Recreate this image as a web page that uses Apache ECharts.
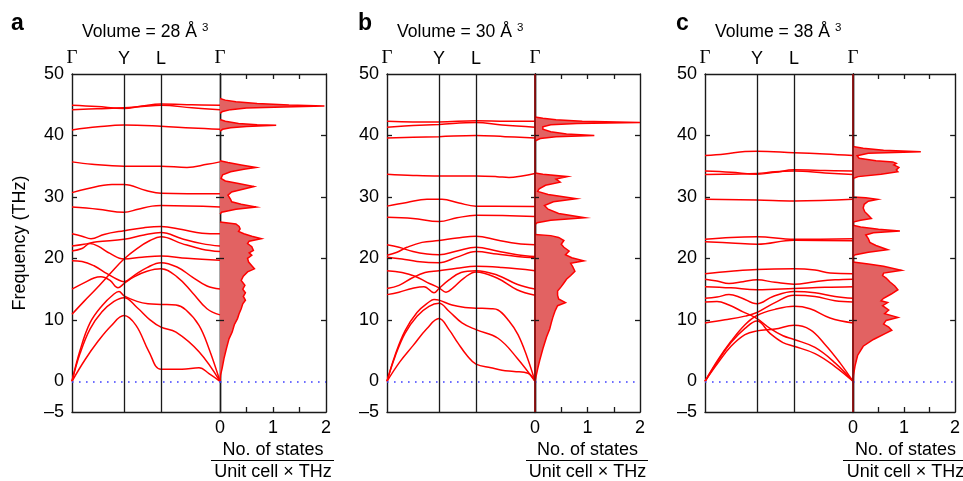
<!DOCTYPE html>
<html><head><meta charset="utf-8">
<script src="https://cdn.jsdelivr.net/npm/echarts@6/dist/echarts.min.js"></script>
<style>html,body{margin:0;padding:0;background:#fff}#c{width:963px;height:481px}</style>
</head><body><div id="c"></div>
<script>
// ---------- data ----------
const kPoints = [0, 52, 89, 148];
const kLabels = ['Γ', 'Y', 'L', 'Γ'];
const freqTickValues = [10, 20, 30, 40];
const freqLabelValues = [-5, 0, 10, 20, 30, 40, 50];
const dosTickValues = [0.5, 1, 1.5];
const dosLabelValues = [0, 1, 2];
const volumes = [28, 30, 38];
const panelLetters = ['a', 'b', 'c'];

const bandsA = [
  [[0,44.9],[25,44.7],[52,44.4],[70,44.8],[89,45.1],[120,45.0],[148,44.9]],
  [[0,44.2],[25,44.35],[52,44.5],[70,44.7],[89,44.9],[120,44.5],[148,44.2]],
  [[0,40.9],[26,41.4],[52,41.7],[89,41.5],[120,41.2],[148,41.0]],
  [[0,35.7],[20,35.3],[52,35.0],[89,35.0],[115,34.8],[135,35.3],[148,35.7]],
  [[0,30.7],[14,31.3],[40,32.0],[52,32.0],[74,31.05],[89,30.6],[148,30.5]],
  [[0,28.35],[26,28.0],[52,27.5],[66,28.0],[80,28.5],[89,28.6],[148,28.35]],
  [[0,24.0],[10,23.6],[19,23.2],[32,23.9],[52,24.5],[72,25.0],[89,25.2],[110,24.7],[130,24.1],[148,24.0]],
  [[0,22.0],[12,22.3],[25,22.7],[52,23.1],[72,23.8],[89,24.2],[110,23.2],[130,22.4],[148,22.0]],
  [[0,21.2],[10,21.6],[18,22.4],[26,22.0],[38,20.8],[52,19.9],[70,20.2],[89,20.4],[115,20.0],[148,19.7]],
  [[0,10.9],[12,13.0],[24,15.0],[38,17.5],[52,19.9],[65,21.6],[78,22.9],[89,23.5],[110,22.4],[130,21.5],[148,21.1]],
  [[0,19.6],[10,19.5],[22,18.8],[35,17.5],[45,16.6],[52,16.2],[62,17.2],[75,18.5],[89,19.3],[105,18.6],[120,17.0],[135,15.5],[148,15.0]],
  [[0,15.0],[12,16.0],[22,16.8],[29,17.0],[38,16.4],[46,15.2],[52,15.9],[62,17.0],[75,17.9],[89,18.3],[105,17.0],[120,14.5],[135,11.8],[148,10.8]],
  [[0,0],[8,5.0],[18,9.5],[30,12.3],[42,14.2],[47,14.6],[52,13.9],[65,13.0],[76,12.6],[89,12.5],[104,12.4],[114,11.6],[127,9.1],[137,5.3],[148,0]],
  [[0,0],[8,4.5],[18,8.5],[30,11.3],[42,13.0],[52,13.6],[65,12.0],[78,10.0],[89,8.8],[104,8.0],[127,4.8],[148,0]],
  [[0,0],[13,3.5],[26,6.5],[39,9.0],[52,10.7],[64,9.1],[77,4.8],[89,1.95],[110,1.95],[127,2.2],[137,1.25],[148,0]]
];
const bandsB = [
  [[0,42.3],[26,42.2],[52,42.2],[89,42.4],[120,42.3],[148,42.3]],
  [[0,41.35],[26,41.6],[52,41.8],[89,42.1],[115,41.7],[148,41.35]],
  [[0,39.6],[26,39.7],[52,39.8],[89,40.0],[118,39.8],[148,39.6]],
  [[0,33.7],[26,33.5],[52,33.4],[89,33.4],[110,33.3],[122,33.15],[135,33.4],[148,33.8]],
  [[0,28.5],[20,29.1],[40,29.6],[55,29.6],[72,29.0],[89,28.5],[148,28.45]],
  [[0,26.7],[26,26.5],[52,26.0],[70,26.6],[89,27.0],[148,26.8]],
  [[0,22.2],[12,21.8],[26,21.1],[40,20.7],[52,20.6],[70,21.2],[89,21.8],[110,21.2],[130,20.6],[148,20.3]],
  [[0,20.5],[10,21.0],[20,21.8],[35,22.6],[52,22.9],[70,23.3],[89,23.6],[110,23.0],[130,22.4],[148,22.2]],
  [[0,20.2],[15,19.9],[30,19.5],[52,19.3],[70,20.2],[89,21.1],[110,20.7],[130,20.3],[148,20.1]],
  [[0,18.0],[15,17.7],[28,17.1],[40,16.1],[52,15.2],[59,14.5],[66,15.2],[77,16.8],[89,17.8],[110,16.8],[130,14.9],[148,14.0]],
  [[0,15.1],[12,15.6],[25,16.8],[38,17.7],[52,18.0],[70,18.4],[89,18.7],[115,18.5],[148,18.0]],
  [[0,14.1],[12,14.5],[25,15.1],[37,15.4],[47,14.4],[52,15.1],[62,16.5],[74,17.7],[89,18.0],[110,17.3],[130,15.8],[148,15.0]],
  [[0,0],[8,4.2],[18,8.2],[30,11.2],[42,12.9],[47,13.3],[52,13.2],[65,12.4],[78,12.0],[89,11.9],[104,11.8],[111,11.6],[122,9.8],[131,7.6],[140,4.0],[148,0]],
  [[0,0],[8,4.0],[18,7.8],[30,10.6],[42,12.2],[52,12.7],[62,11.4],[75,9.5],[89,8.4],[111,7.0],[130,3.8],[148,0]],
  [[0,0],[13,3.2],[26,5.8],[40,8.6],[52,10.2],[62,8.4],[71,6.2],[80,4.2],[89,2.8],[104,2.2],[115,1.8],[127,1.6],[141,1.3],[148,0]]
];
const bandsC = [
  [[0,36.75],[20,37.0],[40,37.4],[52,37.45],[89,37.2],[120,37.0],[148,36.75]],
  [[0,34.2],[26,34.0],[52,33.7],[70,34.0],[89,34.4],[120,34.3],[148,34.2]],
  [[0,33.65],[26,33.7],[52,33.8],[70,34.1],[89,34.2],[120,33.9],[148,33.65]],
  [[0,29.6],[52,29.5],[89,29.35],[148,29.6]],
  [[0,23.1],[26,23.4],[52,23.5],[89,23.1],[148,23.2]],
  [[0,22.7],[26,22.5],[52,22.3],[89,22.95],[148,22.85]],
  [[0,17.5],[26,17.9],[52,18.2],[89,18.3],[110,18.1],[125,17.6],[148,17.5]],
  [[0,16.6],[12,16.3],[24,15.9],[38,16.2],[52,16.5],[70,16.1],[89,15.8],[110,16.2],[130,16.5],[148,16.6]],
  [[0,15.4],[26,15.2],[52,14.9],[89,15.1],[120,15.3],[148,15.4]],
  [[0,13.5],[12,13.7],[24,14.1],[36,13.6],[52,12.6],[68,13.8],[89,14.6],[110,14.4],[130,13.8],[148,13.5]],
  [[0,12.9],[12,13.0],[24,12.4],[38,11.3],[52,10.2],[65,8.6],[78,7.4],[89,6.8],[110,5.5],[130,3.0],[148,0]],
  [[0,9.5],[20,10.0],[40,10.6],[52,11.2],[70,12.8],[89,14.0],[110,13.8],[130,13.1],[148,12.9]],
  [[0,0],[13,3.5],[26,6.5],[40,9.2],[52,10.7],[70,11.7],[89,12.2],[105,11.8],[125,10.3],[148,9.5]],
  [[0,0],[13,3.3],[26,6.3],[40,8.6],[52,9.8],[65,7.8],[78,6.3],[89,5.7],[110,4.5],[130,2.4],[148,0]],
  [[0,0],[13,3.0],[26,5.7],[40,7.6],[52,8.2],[70,8.5],[89,9.1],[105,8.4],[120,6.0],[135,3.0],[148,0]]
];

// DOS: [states per unit cell per THz, frequency THz]
const dosA = [
  [0,46.0],[0.1,45.75],[0.3,45.5],[0.7,45.2],[1.3,44.95],[1.97,44.8],[1.2,44.65],[0.5,44.45],[0.2,44.2],[0.05,43.9],[0,43.6],
  [0,42.6],[0.1,42.3],[0.35,41.95],[0.7,41.75],[1.06,41.65],[0.5,41.45],[0.2,41.25],[0.05,41.0],[0,40.7],
  [0,35.9],[0.15,35.6],[0.4,35.2],[0.68,34.8],[0.45,34.5],[0.2,34.1],[0.05,33.6],[0.02,33.0],[0.1,32.6],[0.35,32.2],[0.64,31.7],[0.45,31.3],[0.22,30.8],[0.15,30.3],[0.2,29.6],[0.22,29.2],[0.4,28.8],[0.68,28.35],[0.3,28.0],[0.03,27.5],[0,27.2],
  [0,25.9],[0.3,25.6],[0.36,25.2],[0.38,24.8],[0.35,24.4],[0.45,24.0],[0.6,23.6],[0.78,23.2],[0.55,22.8],[0.52,22.4],[0.6,21.9],[0.63,21.3],[0.55,20.9],[0.6,20.5],[0.52,20.0],[0.54,19.4],[0.6,18.8],[0.65,18.3],[0.52,17.8],[0.44,17.1],[0.40,16.4],[0.47,15.6],[0.43,15.0],[0.48,14.4],[0.44,13.8],[0.48,13.2],[0.43,12.6],[0.40,11.8],[0.36,11.0],[0.33,10.2],[0.27,9.2],[0.23,8.0],[0.17,6.9],[0.12,5.3],[0.075,3.7],[0.04,2.1],[0.01,1.0],[0,0]
];
const dosB = [
  [0,43.0],[0.15,42.8],[0.4,42.55],[0.9,42.3],[2.0,42.1],[0.8,41.95],[0.3,41.75],[0.15,41.4],[0.15,41.0],[0.3,40.6],[0.6,40.25],[1.13,40.0],[0.4,39.8],[0.1,39.5],[0,39.1],
  [0,33.9],[0.15,33.7],[0.62,33.3],[0.4,32.9],[0.48,32.4],[0.2,31.9],[0.08,31.3],[0.05,30.9],[0.25,30.4],[0.79,29.7],[0.35,29.2],[0.18,28.6],[0.25,28.0],[0.45,27.3],[0.95,26.6],[0.3,26.2],[0.04,25.8],[0,25.5],
  [0,23.9],[0.3,23.7],[0.45,23.4],[0.55,22.9],[0.5,22.3],[0.55,21.8],[0.65,21.2],[0.58,20.6],[0.7,20.1],[0.93,19.6],[0.68,19.2],[0.72,18.6],[0.76,17.9],[0.68,17.2],[0.6,16.6],[0.55,16.0],[0.5,15.4],[0.43,14.7],[0.43,14.0],[0.45,13.4],[0.58,12.8],[0.43,12.3],[0.38,11.4],[0.34,10.4],[0.31,9.5],[0.28,8.5],[0.22,7.2],[0.15,5.3],[0.09,3.4],[0.05,2.0],[0.02,0.8],[0,0]
];
const dosC = [
  [0,38.2],[0.2,37.9],[0.6,37.6],[1.33,37.35],[0.3,37.1],[0.08,36.7],[0.12,36.3],[0.45,35.9],[0.78,35.7],[0.85,35.45],[0.8,35.2],[0.9,34.8],[0.85,34.4],[0.88,34.1],[0.55,33.7],[0.1,33.3],[0,33.0],
  [0,30.0],[0.25,29.85],[0.48,29.6],[0.3,29.3],[0.22,28.8],[0.2,28.2],[0.23,27.6],[0.3,27.0],[0.36,26.5],[0.15,26.2],[0,25.9],
  [0,25.4],[0.15,25.1],[0.5,24.75],[0.92,24.45],[0.4,24.15],[0.25,23.8],[0.3,23.2],[0.33,22.6],[0.45,22.1],[0.68,21.4],[0.3,21.0],[0.05,20.6],[0,20.4],
  [0,19.4],[0.3,19.1],[0.6,18.7],[0.95,18.05],[0.6,17.6],[0.58,17.2],[0.65,16.8],[0.72,16.2],[0.82,15.5],[0.88,14.9],[0.75,14.2],[0.6,13.5],[0.55,13.1],[0.68,12.8],[0.58,12.3],[0.7,11.6],[0.62,11.0],[0.88,10.4],[0.65,9.9],[0.6,9.3],[0.7,8.8],[0.76,8.3],[0.62,7.7],[0.4,6.8],[0.2,5.7],[0.09,4.2],[0.04,2.5],[0.01,1.0],[0,0]
];

// ---------- layout ----------
const LAYOUT = [
  {bandLeft:72,  gamma:220, dosRight:326, letterX:11,  titleX:82,  fracL:211, fracR:334, darkAxis:false},
  {bandLeft:387, gamma:535, dosRight:640, letterX:358, titleX:397, fracL:526, fracR:648, darkAxis:true},
  {bandLeft:705, gamma:853, dosRight:958, letterX:676, titleX:715, fracL:843, fracR:980, darkAxis:true}
];
const TOP = 74, BOTTOM = 412;
const TICK_PX = 5;
const FMIN = -5, FMAX = 50, DMAX = 2;
const FONT = 'Liberation Sans';
const AXC = '#1a1a1a';
const panels = [
  {bands: bandsA, dos: dosA},
  {bands: bandsB, dos: dosB},
  {bands: bandsC, dos: dosC}
];

function dosRender(points) {
  return function (params, api) {
    if (params.dataIndex !== 0) return null;
    const pts = points.map(p => api.coord(p));
    const segs = [];
    let cur = [pts[0]];
    for (let i = 1; i < points.length; i++) {
      if (points[i][0] === 0 && points[i - 1][0] === 0) { segs.push(cur); cur = [pts[i]]; }
      else cur.push(pts[i]);
    }
    segs.push(cur);
    const children = [{type: 'polygon', shape: {points: pts}, style: {fill: '#e26262', stroke: 'none'}}];
    segs.filter(s => s.length > 1).forEach(s => children.push({
      type: 'polyline', shape: {points: s}, style: {fill: 'none', stroke: '#ff0000', lineWidth: 1.5}
    }));
    return {type: 'group', children};
  };
}

const option = {animation: false, backgroundColor: '#fff', textStyle: {fontFamily: FONT},
  grid: [], xAxis: [], yAxis: [], series: [], graphic: []};

const tickLS = {color: AXC, type: 'solid', width: 1.3};
const axLine = {show: true, onZero: false, lineStyle: {color: AXC, width: 1.4}};
function txt(x, y, text, size, extra) {
  return {type: 'text', x: x, y: y, z: 10, style: Object.assign({text: text, fontFamily: FONT, fontSize: size, fill: '#000',
    align: 'left', verticalAlign: 'middle', textAlign: 'left', textVerticalAlign: 'middle'}, extra || {})};
}
function seg(a, b) { return [{coord: a, lineStyle: tickLS}, {coord: b}]; }

panels.forEach((P, p) => {
  const lay = LAYOUT[p];
  const gb = option.grid.length;
  const bandW = lay.gamma - lay.bandLeft, dosW = lay.dosRight - lay.gamma, H = BOTTOM - TOP;
  const gridCommon = {top: TOP, height: H, show: false, containLabel: false};
  option.grid.push(Object.assign({left: lay.bandLeft, width: bandW}, gridCommon));
  option.grid.push(Object.assign({left: lay.gamma, width: dosW}, gridCommon));

  const kMax = kPoints[kPoints.length - 1];
  const xb = option.xAxis.length;
  option.xAxis.push({gridIndex: gb, type: 'value', min: kPoints[0], max: kMax, position: 'top',
    axisLine: axLine, axisTick: {show: false}, splitLine: {show: false},
    axisLabel: {customValues: kPoints, margin: 6, color: '#000',
      formatter: v => { const t = kLabels[kPoints.indexOf(v)]; return t === 'Γ' ? '{g|Γ}' : '{s|' + t + '}'; },
      rich: {g: {fontFamily: 'Liberation Serif', fontSize: 19, color: '#000'}, s: {fontFamily: FONT, fontSize: 18, color: '#000'}}}});
  option.xAxis.push({gridIndex: gb, type: 'value', min: kPoints[0], max: kMax, position: 'bottom',
    axisLine: axLine, axisTick: {show: false}, splitLine: {show: false}, axisLabel: {show: false}});
  option.xAxis.push({gridIndex: gb + 1, type: 'value', min: 0, max: DMAX, interval: 0.5, position: 'bottom',
    axisLine: axLine, splitLine: {show: false}, axisTick: {show: false},
    axisLabel: {customValues: dosLabelValues, margin: 7, fontSize: 18, color: '#000', fontFamily: FONT}});
  option.xAxis.push({gridIndex: gb + 1, type: 'value', min: 0, max: DMAX, interval: 0.5, position: 'top',
    axisLine: axLine, splitLine: {show: false}, axisTick: {show: false}, axisLabel: {show: false}});

  const yb = option.yAxis.length;
  const yCommon = {type: 'value', min: FMIN, max: FMAX, interval: 5, axisLine: axLine, splitLine: {show: false}, axisTick: {show: false}};
  const yBandLeft = Object.assign({gridIndex: gb, position: 'left',
    axisLabel: {customValues: freqLabelValues, margin: 8, fontSize: 18, color: '#000', fontFamily: FONT,
      formatter: v => v < 0 ? '\u2013' + (-v) : String(v)}}, yCommon);
  if (p === 0) Object.assign(yBandLeft, {name: 'Frequency (THz)', nameLocation: 'middle', nameGap: 43, nameRotate: 90,
    nameTextStyle: {fontSize: 18, color: '#000', fontFamily: FONT}});
  option.yAxis.push(yBandLeft);
  option.yAxis.push(Object.assign({gridIndex: gb, position: 'right', axisLabel: {show: false}}, yCommon));
  option.yAxis.push(Object.assign({gridIndex: gb + 1, position: 'left', axisLabel: {show: false}}, yCommon));
  option.yAxis.push(Object.assign({gridIndex: gb + 1, position: 'right', axisLabel: {show: false}}, yCommon));

  // tick lengths converted to data units of each grid
  const tkBand = TICK_PX * kMax / bandW;
  const tkDosX = TICK_PX * DMAX / dosW;
  const tkFreq = TICK_PX * (FMAX - FMIN) / H;

  const dotted = {color: '#4040ff', type: [1.6, 5.4], width: 1.6};
  const bandMarks = [
    {xAxis: kPoints[1], lineStyle: {color: AXC, type: 'solid', width: 1.3}},
    {xAxis: kPoints[2], lineStyle: {color: AXC, type: 'solid', width: 1.3}},
    {yAxis: 0, lineStyle: dotted}
  ];
  freqTickValues.forEach(f => {
    bandMarks.push(seg([0, f], [tkBand, f]));
    bandMarks.push(seg([kMax, f], [kMax - tkBand * 0.8, f]));
  });
  P.bands.forEach((b, i) => {
    const s = {type: 'line', xAxisIndex: xb, yAxisIndex: yb, data: b, smooth: 0.4, showSymbol: false, symbol: 'none',
      lineStyle: {color: '#ff0000', width: 1.5}, silent: true, z: 3};
    if (i === 0) s.markLine = {silent: true, symbol: 'none', animation: false, label: {show: false}, data: bandMarks};
    option.series.push(s);
  });
  const dosMarks = [{yAxis: 0, lineStyle: dotted}];
  if (lay.darkAxis) dosMarks.push({xAxis: 0, lineStyle: {color: '#8a0c0c', type: 'solid', width: 1.8}});
  freqTickValues.forEach(f => {
    dosMarks.push(seg([0, f], [tkDosX * 0.8, f]));
    dosMarks.push(seg([DMAX, f], [DMAX - tkDosX, f]));
  });
  dosTickValues.forEach(d => {
    dosMarks.push(seg([d, FMIN], [d, FMIN + tkFreq]));
    dosMarks.push(seg([d, FMAX], [d, FMAX - tkFreq]));
  });
  option.series.push({type: 'custom', xAxisIndex: xb + 2, yAxisIndex: yb + 2, data: [[0, 0]],
    renderItem: dosRender(P.dos), silent: true, z: 3,
    markLine: {silent: true, symbol: 'none', animation: false, label: {show: false}, data: dosMarks}});

  // texts
  const cx = (lay.gamma + lay.dosRight) / 2;
  option.graphic.push(
    txt(lay.letterX, 24, panelLetters[p], 23, {fontWeight: 'bold'}),
    txt(lay.titleX, 32, 'Volume = ' + volumes[p] + ' Å', 17.6),
    txt(lay.titleX + 120, 28, '3', 11.5),
    txt(cx, 450, 'No. of states', 18, {align: 'center', textAlign: 'center'}),
    {type: 'line', shape: {x1: lay.fracL, y1: 460.5, x2: lay.fracR, y2: 460.5}, style: {stroke: '#000', lineWidth: 1.2}},
    txt(cx, 472, 'Unit cell × THz', 18, {align: 'center', textAlign: 'center'})
  );
});

const chart = echarts.init(document.getElementById('c'), null, {renderer: 'canvas'});
chart.setOption(option);
</script>
</body></html>
